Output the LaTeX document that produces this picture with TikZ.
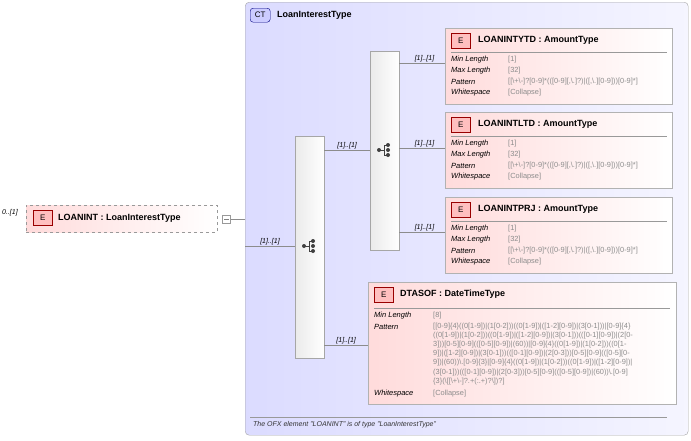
\documentclass[tikz,border=0pt]{standalone}
\usepackage{fontspec}
\setmainfont{Liberation Sans}
\begin{document}
\begin{tikzpicture}[x=1pt,y=-1pt,
 box/.style={draw=black!30,left color=red!14,right color=white,anchor=north west,inner sep=0},
 badge/.style={draw=red!60!black,fill=red!25,minimum width=19,minimum height=15,inner sep=0,anchor=north west,font=\fontsize{8}{8}\selectfont},
 title/.style={anchor=west,font=\bfseries\fontsize{9}{9}\selectfont,inner sep=0},
 pk/.style={anchor=west,font=\itshape\fontsize{7.5}{7.5}\selectfont,inner sep=0},
 pv/.style={anchor=west,font=\fontsize{7.4}{7.4}\selectfont,text=black!45,inner sep=0},
 card/.style={font=\itshape\fontsize{7}{7}\selectfont,inner sep=1,anchor=south},
 seq/.style={draw=black!35,left color=black!8,right color=white,anchor=north west,inner sep=0},
 ln/.style={draw=black!45},
 seqicon/.pic={
  \fill[black!75] (-5,0) circle (2);
  \draw[black!75,line width=0.8] (-5,0) -- (0,0) (0,-5) -- (0,5);
  \draw[black!75,line width=0.8] (0,-5) -- (3,-5) (0,5) -- (3,5);
  \fill[black!75] (4,-5) circle (2) (4,0) circle (2) (4,5) circle (2);}]
\useasboundingbox (0,0) rectangle (691,440);
\fill[white] (0,0) rectangle (691,440);
% CT
\node[draw=black!35,rounded corners=4,left color=blue!14,right color=blue!4,minimum width=443,minimum height=433,anchor=north west,inner sep=0] (ct) at (245,2) {};
\node[draw=blue!50!black,fill=blue!20,rounded corners=3,minimum width=20,minimum height=14,inner sep=0,anchor=north west,font=\fontsize{8}{8}\selectfont] (ctb) at (250,8) {CT};
\node[title] (ctt) at (277,15) {LoanInterestType};
\draw[black!40] (250,417) -- (667,417);
\node[anchor=west,font=\itshape\fontsize{7}{7}\selectfont,inner sep=0,text=black!80] (note) at (253,425) {The OFX element "LOANINT" is of type "LoanInterestType"};
% root
\node[draw=black!40,dashed,left color=red!14,right color=white,minimum width=191,minimum height=27,anchor=north west,inner sep=0] (root) at (26,205) {};
\node[badge] (rb) at (33,210) {E};
\node[title] (rt) at (58,218) {LOANINT : LoanInterestType};
\node[anchor=west,font=\itshape\fontsize{7}{7}\selectfont,inner sep=0] (rc) at (2,213) {0..[1]};
\node[draw=black!40,fill=white,minimum size=8,inner sep=0] (mn) at (226.5,219) {};
\draw[black!50] (224,219) -- (229,219);
\draw[ln] (mn.east) -- (ct.west|-mn.east);
% sequences
\node[seq,minimum width=29,minimum height=222] (s1) at (295,136) {};
\node[seq,minimum width=29,minimum height=199] (s2) at (370,51) {};
\pic at (309,246) {seqicon};
\pic at (384,150) {seqicon};
\draw[ln] (ct.west|-0,246) -- node[card]{[1]..[1]} (s1.west|-0,246);
\draw[ln] (s1.east|-0,150) -- node[card]{[1]..[1]} (s2.west|-0,150);
% elements
\foreach \n/\y/\nm in {e1/28/LOANINTYTD,e2/112/LOANINTLTD,e3/197/LOANINTPRJ}{
 \node[box,minimum width=227,minimum height=76] (\n) at (445,\y) {};
 \node[badge] at (451,\y+5) {E};
 \node[title] at (478,\y+12.5) {\nm\ : AmountType};
 \draw[black!40] (451,\y+24) -- (667,\y+24);
 \node[pk] at (451,\y+32) {Min Length}; \node[pv] at (508,\y+32) {[1]};
 \node[pk] at (451,\y+43) {Max Length}; \node[pv] at (508,\y+43) {[32]};
 \node[pk] at (451,\y+54) {Pattern}; \node[pv] at (508,\y+54) {[[\textbackslash+\textbackslash-]?[0-9]*(([0-9][,\textbackslash.]?)|([,\textbackslash.][0-9]))[0-9]*]};
 \node[pk] at (451,\y+65) {Whitespace}; \node[pv] at (508,\y+65) {[Collapse]};
}
\draw[ln] (s2.east|-0,63) -- node[card,pos=0.55]{[1]..[1]} (e1.west|-0,63);
\draw[ln] (s2.east|-0,148) -- node[card,pos=0.55]{[1]..[1]} (e2.west|-0,148);
\draw[ln] (s2.east|-0,232) -- node[card,pos=0.55]{[1]..[1]} (e3.west|-0,232);
% DTASOF
\node[box,minimum width=308,minimum height=122] (e4) at (368,282) {};
\node[badge] at (374,287) {E};
\node[title] at (400,294.5) {DTASOF : DateTimeType};
\draw[black!40] (374,308) -- (670,308);
\node[pk] at (374,316) {Min Length}; \node[pv] at (433,316) {[8]};
\node[pk] at (374,327) {Pattern};
\node[pv,anchor=north west,align=left,font=\fontsize{7.4}{9.2}\selectfont] at (433,322.5) {[[0-9]\{4\}((0[1-9])|(1[0-2]))((0[1-9])|([1-2][0-9])|(3[0-1]))|[0-9]\{4\}\\((0[1-9])|(1[0-2]))((0[1-9])|([1-2][0-9])|(3[0-1]))(([0-1][0-9])|(2[0-\\3]))[0-5][0-9](([0-5][0-9])|(60))|[0-9]\{4\}((0[1-9])|(1[0-2]))((0[1-\\9])|([1-2][0-9])|(3[0-1]))(([0-1][0-9])|(2[0-3]))[0-5][0-9](([0-5][0-\\9])|(60))\textbackslash.[0-9]\{3\}|[0-9]\{4\}((0[1-9])|(1[0-2]))((0[1-9])|([1-2][0-9])|\\(3[0-1]))(([0-1][0-9])|(2[0-3]))[0-5][0-9](([0-5][0-9])|(60))\textbackslash.[0-9]\\\{3\}(\textbackslash[[\textbackslash+\textbackslash-]?.+(:.+)?\textbackslash])?]};
\node[pk] at (374,394) {Whitespace}; \node[pv] at (433,394) {[Collapse]};
\draw[ln] (s1.east|-0,345) -- node[card]{[1]..[1]} (e4.west|-0,345);
\end{tikzpicture}
\end{document}
